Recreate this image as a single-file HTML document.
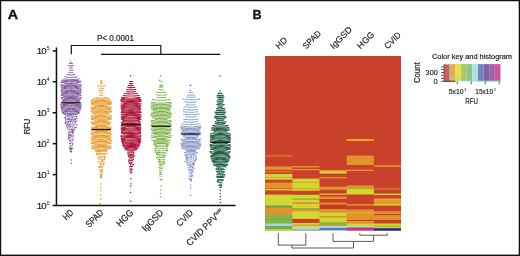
<!DOCTYPE html>
<html lang="en"><head><meta charset="utf-8"><title>Figure</title>
<style>
html,body{margin:0;padding:0;background:#fff;}
body{width:520px;height:256px;overflow:hidden;}
svg{display:block;}
text{font-family:"Liberation Sans", sans-serif;fill:#1c1c1c;stroke:#1c1c1c;stroke-width:0.18px;}
text{filter:grayscale(1);}
</style></head><body>
<svg width="520" height="256" viewBox="0 0 520 256">
<rect x="0" y="0" width="520" height="256" fill="#fff"/>

<g fill="#111">
<rect x="0" y="0" width="520" height="1.25"/>
<rect x="0" y="0" width="1.2" height="256"/>
<rect x="518.7" y="0" width="1.4" height="256"/>
<rect x="0" y="254.6" width="520" height="1.5"/>
</g>
<text x="7.7" y="18.8" font-size="13" font-weight="bold" textLength="10.3" lengthAdjust="spacingAndGlyphs" style="fill:#111;stroke:#111;stroke-width:0.35px">A</text>
<text x="252.4" y="18.8" font-size="12.6" font-weight="bold" style="fill:#111;stroke:#111;stroke-width:0.3px">B</text>
<g stroke="#111" stroke-width="1.5" fill="none" stroke-linecap="butt">
<path d="M56.45 47.60V205.5H235.6"/>
<path d="M52.7 205.50H56.45"/>
<path d="M52.7 174.58H56.45"/>
<path d="M52.7 143.66H56.45"/>
<path d="M52.7 112.74H56.45"/>
<path d="M52.7 81.82H56.45"/>
<path d="M52.7 50.90H56.45"/>
</g>
<text y="208.65" font-size="9.7"><tspan x="36.7">1</tspan><tspan x="41.15">0</tspan></text>
<text x="46.7" y="204.95" font-size="5.6" textLength="2.9" lengthAdjust="spacingAndGlyphs" style="stroke-width:0.05px">0</text>
<text y="177.73" font-size="9.7"><tspan x="36.7">1</tspan><tspan x="41.15">0</tspan></text>
<text x="46.7" y="174.03" font-size="5.6" textLength="2.9" lengthAdjust="spacingAndGlyphs" style="stroke-width:0.05px">1</text>
<text y="146.81" font-size="9.7"><tspan x="36.7">1</tspan><tspan x="41.15">0</tspan></text>
<text x="46.7" y="143.11" font-size="5.6" textLength="2.9" lengthAdjust="spacingAndGlyphs" style="stroke-width:0.05px">2</text>
<text y="115.89" font-size="9.7"><tspan x="36.7">1</tspan><tspan x="41.15">0</tspan></text>
<text x="46.7" y="112.19" font-size="5.6" textLength="2.9" lengthAdjust="spacingAndGlyphs" style="stroke-width:0.05px">3</text>
<text y="84.97" font-size="9.7"><tspan x="36.7">1</tspan><tspan x="41.15">0</tspan></text>
<text x="46.7" y="81.27" font-size="5.6" textLength="2.9" lengthAdjust="spacingAndGlyphs" style="stroke-width:0.05px">4</text>
<text y="54.05" font-size="9.7"><tspan x="36.7">1</tspan><tspan x="41.15">0</tspan></text>
<text x="46.7" y="50.35" font-size="5.6" textLength="2.9" lengthAdjust="spacingAndGlyphs" style="stroke-width:0.05px">5</text>
<text transform="translate(30.3 134.3) rotate(-90)" font-size="9.9" textLength="15.6" lengthAdjust="spacingAndGlyphs">RFU</text>
<g stroke="#111" stroke-width="1.15" fill="none">
<path d="M71.3 54.3V45.5H160.8V54.3"/>
<path d="M101 54.3H220.3"/>
</g>
<text x="96.9" y="41.4" font-size="8.6" textLength="37" lengthAdjust="spacingAndGlyphs">P&lt; 0.0001</text>
<g stroke="#7A5499" stroke-width="1.0" stroke-linecap="round" fill="none">
<path d="M69.1 63.5Q71.0 63.7 72.3 63.5" stroke-dasharray="1.45 0.75" stroke-dashoffset="0.20"/>
<path d="M68.0 65.6Q71.0 66.2 73.5 65.6" stroke-dasharray="1.60 0.74" stroke-dashoffset="0.52"/>
<path d="M69.4 68.0Q71.0 68.1 72.4 68.0" stroke-dasharray="1.83 0.80" stroke-dashoffset="1.53"/>
<path d="M69.1 70.2Q71.0 70.7 73.0 70.2" stroke-dasharray="1.51 0.96" stroke-dashoffset="1.92"/>
<path d="M68.9 72.5Q71.0 72.8 73.5 72.5" stroke-dasharray="1.09 0.86" stroke-dashoffset="0.96"/>
<path d="M66.9 74.4Q71.0 75.4 75.0 74.4" stroke-dasharray="1.77 0.79" stroke-dashoffset="1.25"/>
<path d="M64.9 76.8Q71.0 78.0 76.9 76.8" stroke-dasharray="1.71 0.99" stroke-dashoffset="1.56"/>
<path d="M63.3 78.7Q71.0 80.4 78.9 78.7" stroke-dasharray="1.07 1.04" stroke-dashoffset="1.36"/>
<path d="M62.4 80.0Q71.0 81.6 79.0 80.0" stroke-dasharray="5.12 0.35" stroke-dashoffset="0.64"/>
<path d="M61.4 81.0Q71.0 82.8 80.5 81.0" stroke-dasharray="6.55 0.34" stroke-dashoffset="3.09"/>
<path d="M60.9 82.2Q71.0 84.4 80.9 82.2" stroke-dasharray="4.95 0.39" stroke-dashoffset="4.73"/>
<path d="M64.6 83.8Q71.0 84.8 77.4 83.8" stroke-dasharray="5.56 0.37" stroke-dashoffset="0.02"/>
<path d="M61.2 84.7Q71.0 86.7 81.0 84.7" stroke-dasharray="5.30 0.44" stroke-dashoffset="3.89"/>
<path d="M60.9 85.7Q71.0 88.0 81.4 85.7" stroke-dasharray="4.87 0.40" stroke-dashoffset="0.55"/>
<path d="M61.1 87.0Q71.0 88.8 80.5 87.0" stroke-dasharray="4.69 0.33" stroke-dashoffset="0.00"/>
<path d="M61.5 88.1Q71.0 90.0 81.0 88.1" stroke-dasharray="5.65 0.35" stroke-dashoffset="1.51"/>
<path d="M61.4 89.5Q71.0 91.4 81.2 89.5" stroke-dasharray="5.13 0.42" stroke-dashoffset="0.48"/>
<path d="M60.9 90.7Q71.0 92.6 80.7 90.7" stroke-dasharray="3.58 0.51" stroke-dashoffset="2.16"/>
<path d="M61.3 91.9Q71.0 93.7 81.3 91.9" stroke-dasharray="6.52 0.46" stroke-dashoffset="1.82"/>
<path d="M61.4 92.9Q71.0 95.0 81.0 92.9" stroke-dasharray="4.65 0.36" stroke-dashoffset="4.07"/>
<path d="M61.2 94.2Q71.0 96.3 80.4 94.2" stroke-dasharray="5.31 0.39" stroke-dashoffset="0.17"/>
<path d="M61.4 95.5Q71.0 97.4 81.1 95.5" stroke-dasharray="5.07 0.51" stroke-dashoffset="5.51"/>
<path d="M63.5 96.9Q71.0 98.1 78.1 96.9" stroke-dasharray="5.68 0.50" stroke-dashoffset="5.20"/>
<path d="M61.0 97.5Q71.0 99.7 81.2 97.5" stroke-dasharray="6.68 0.48" stroke-dashoffset="5.37"/>
<path d="M61.4 98.8Q71.0 101.0 81.0 98.8" stroke-dasharray="6.90 0.40" stroke-dashoffset="2.93"/>
<path d="M62.5 100.3Q71.0 101.8 79.9 100.3" stroke-dasharray="6.32 0.35" stroke-dashoffset="5.51"/>
<path d="M62.2 101.4Q71.0 103.1 79.2 101.4" stroke-dasharray="6.90 0.45" stroke-dashoffset="3.87"/>
<path d="M62.9 102.6Q71.0 104.3 78.8 102.6" stroke-dasharray="4.53 0.37" stroke-dashoffset="2.87"/>
<path d="M61.0 104.0Q71.0 105.8 80.9 104.0" stroke-dasharray="5.10 0.44" stroke-dashoffset="5.01"/>
<path d="M60.8 104.9Q71.0 107.0 81.3 104.9" stroke-dasharray="3.57 0.41" stroke-dashoffset="0.73"/>
<path d="M61.0 106.2Q71.0 108.1 81.3 106.2" stroke-dasharray="5.45 0.39" stroke-dashoffset="3.02"/>
<path d="M61.0 107.5Q71.0 109.3 80.7 107.5" stroke-dasharray="4.47 0.47" stroke-dashoffset="2.51"/>
<path d="M61.4 108.5Q71.0 110.6 80.7 108.5" stroke-dasharray="5.27 0.42" stroke-dashoffset="3.94"/>
<path d="M61.9 110.0Q71.0 111.8 80.4 110.0" stroke-dasharray="6.57 0.51" stroke-dashoffset="1.84"/>
<path d="M61.5 110.8Q71.0 112.9 80.0 110.8" stroke-dasharray="5.05 0.33" stroke-dashoffset="1.30"/>
<path d="M62.0 112.3Q71.0 114.2 79.5 112.3" stroke-dasharray="6.01 0.45" stroke-dashoffset="0.92"/>
<path d="M63.0 113.4Q71.0 115.2 79.0 113.4" stroke-dasharray="6.96 0.49" stroke-dashoffset="1.20"/>
<path d="M64.1 114.6Q71.0 115.7 78.1 114.6" stroke-dasharray="1.25 1.55" stroke-dashoffset="2.72"/>
<path d="M64.8 116.4Q71.0 117.6 76.8 116.4" stroke-dasharray="0.69 1.08" stroke-dashoffset="1.21"/>
<path d="M64.9 118.5Q71.0 119.6 76.6 118.5" stroke-dasharray="1.21 1.21" stroke-dashoffset="0.31"/>
<path d="M65.6 119.6Q71.0 120.4 76.0 119.6" stroke-dasharray="0.85 1.05" stroke-dashoffset="0.48"/>
<path d="M65.5 121.1Q71.0 122.0 77.0 121.1" stroke-dasharray="0.95 1.49" stroke-dashoffset="2.39"/>
<path d="M65.3 122.5Q71.0 123.6 76.5 122.5" stroke-dasharray="0.68 1.59" stroke-dashoffset="1.98"/>
<path d="M66.7 124.3Q71.0 125.0 75.2 124.3" stroke-dasharray="0.83 1.27" stroke-dashoffset="0.00"/>
<path d="M66.4 126.0Q71.0 126.6 75.0 126.0" stroke-dasharray="0.64 1.24" stroke-dashoffset="0.44"/>
<path d="M67.1 127.6Q71.0 128.4 75.4 127.6" stroke-dasharray="1.09 1.46" stroke-dashoffset="0.11"/>
<path d="M67.1 129.1Q71.0 129.9 75.0 129.1" stroke-dasharray="1.06 1.49" stroke-dashoffset="0.59"/>
<path d="M68.0 131.2Q71.0 131.5 74.0 131.2" stroke-dasharray="0.63 1.56" stroke-dashoffset="1.64"/>
<path d="M67.6 132.3Q71.0 132.7 74.1 132.3" stroke-dasharray="1.10 1.67" stroke-dashoffset="1.37"/>
<path d="M68.2 133.7Q71.0 134.4 74.0 133.7" stroke-dasharray="0.82 1.41" stroke-dashoffset="0.03"/>
<path d="M68.4 135.6Q71.0 136.2 73.4 135.6" stroke-dasharray="1.19 1.17" stroke-dashoffset="2.31"/>
<path d="M68.3 136.8Q71.0 137.5 73.4 136.8" stroke-dasharray="0.72 1.38" stroke-dashoffset="2.00"/>
<path d="M68.5 139.0Q71.0 139.6 73.2 139.0" stroke-dasharray="0.94 1.33" stroke-dashoffset="0.69"/>
<path d="M69.4 140.3Q71.0 140.9 72.9 140.3" stroke-dasharray="1.21 1.50" stroke-dashoffset="2.45"/>
<path d="M69.3 141.7Q71.0 142.4 72.6 141.7" stroke-dasharray="0.66 1.11" stroke-dashoffset="1.47"/>
<path d="M69.2 143.4Q71.0 143.7 72.4 143.4" stroke-dasharray="1.03 1.63" stroke-dashoffset="2.50"/>
<path d="M69.9 145.1Q71.0 145.5 72.4 145.1" stroke-dasharray="0.66 1.64" stroke-dashoffset="0.29"/>
<path d="M69.7 146.8Q71.0 147.2 72.0 146.8" stroke-dasharray="0.98 1.30" stroke-dashoffset="0.38"/>
<path d="M70.8 62.1h0M69.9 115.0h0M67.9 115.7h0M71.2 115.0h0M76.5 116.8h0M65.0 117.6h0M72.2 117.4h0M76.8 118.6h0M68.4 118.7h0M74.9 120.0h0M71.0 119.9h0M70.1 121.8h0M75.7 121.7h0M65.4 123.6h0M67.8 123.0h0M76.7 125.0h0M67.9 125.5h0M69.9 125.9h0M76.0 127.6h0M73.9 130.0h0M71.8 130.1h0M72.6 131.1h0M72.8 132.4h0M69.2 134.6h0M70.8 135.4h0M69.2 137.5h0M68.3 138.4h0M72.6 144.0h0M69.8 148.6h0M71.0 148.2h0M72.3 148.6h0M70.3 149.7h0M71.3 149.8h0M70.3 151.4h0M71.6 151.8h0M71.4 160.0h0M71.2 163.2h0" stroke-width="1.5"/>
</g>
<path d="M61.2 102.8H80.8" stroke="#111" stroke-width="1.25" fill="none"/>
<g stroke="#E89824" stroke-width="1.0" stroke-linecap="round" fill="none">
<path d="M100.4 83.4Q101.2 83.9 102.2 83.4" stroke-dasharray="1.60 0.76" stroke-dashoffset="1.93"/>
<path d="M97.3 85.6Q101.2 86.5 105.2 85.6" stroke-dasharray="1.12 0.80" stroke-dashoffset="1.78"/>
<path d="M98.5 88.2Q101.2 88.5 104.0 88.2" stroke-dasharray="1.88 1.02" stroke-dashoffset="2.09"/>
<path d="M98.8 90.4Q101.2 91.0 103.2 90.4" stroke-dasharray="1.76 0.66" stroke-dashoffset="1.73"/>
<path d="M99.8 93.0Q101.2 93.1 102.6 93.0" stroke-dasharray="1.77 0.80" stroke-dashoffset="0.57"/>
<path d="M99.2 95.2Q101.2 95.8 103.0 95.2" stroke-dasharray="2.06 0.74" stroke-dashoffset="1.47"/>
<path d="M95.3 97.5Q101.2 98.5 106.6 97.5" stroke-dasharray="1.34 0.99" stroke-dashoffset="1.51"/>
<path d="M93.6 98.5Q101.2 99.9 108.8 98.5" stroke-dasharray="5.94 0.46" stroke-dashoffset="2.32"/>
<path d="M92.0 99.7Q101.2 101.4 109.9 99.7" stroke-dasharray="5.23 0.36" stroke-dashoffset="4.28"/>
<path d="M91.1 100.9Q101.2 102.8 110.8 100.9" stroke-dasharray="5.68 0.44" stroke-dashoffset="5.49"/>
<path d="M91.2 102.0Q101.2 103.9 111.7 102.0" stroke-dasharray="3.69 0.32" stroke-dashoffset="2.39"/>
<path d="M91.2 103.2Q101.2 105.1 111.5 103.2" stroke-dasharray="4.60 0.34" stroke-dashoffset="0.39"/>
<path d="M91.4 104.4Q101.2 106.5 111.0 104.4" stroke-dasharray="4.59 0.47" stroke-dashoffset="4.24"/>
<path d="M93.6 106.0Q101.2 107.2 108.7 106.0" stroke-dasharray="6.60 0.43" stroke-dashoffset="5.33"/>
<path d="M90.8 107.0Q101.2 109.0 111.1 107.0" stroke-dasharray="5.97 0.36" stroke-dashoffset="3.43"/>
<path d="M91.4 108.1Q101.2 110.3 111.2 108.1" stroke-dasharray="4.37 0.45" stroke-dashoffset="1.95"/>
<path d="M91.0 109.2Q101.2 111.4 111.0 109.2" stroke-dasharray="3.72 0.44" stroke-dashoffset="1.51"/>
<path d="M91.0 110.8Q101.2 112.7 111.6 110.8" stroke-dasharray="6.73 0.38" stroke-dashoffset="5.13"/>
<path d="M91.2 111.7Q101.2 114.0 111.6 111.7" stroke-dasharray="3.88 0.46" stroke-dashoffset="2.02"/>
<path d="M91.8 113.1Q101.2 115.1 110.6 113.1" stroke-dasharray="3.53 0.51" stroke-dashoffset="1.22"/>
<path d="M94.9 114.8Q101.2 116.1 107.8 114.8" stroke-dasharray="5.59 0.42" stroke-dashoffset="2.35"/>
<path d="M91.3 115.6Q101.2 117.7 111.2 115.6" stroke-dasharray="4.06 0.41" stroke-dashoffset="0.47"/>
<path d="M91.4 117.0Q101.2 118.9 111.6 117.0" stroke-dasharray="6.90 0.35" stroke-dashoffset="0.96"/>
<path d="M91.1 118.2Q101.2 120.2 111.6 118.2" stroke-dasharray="6.16 0.48" stroke-dashoffset="1.95"/>
<path d="M91.3 119.4Q101.2 121.3 111.0 119.4" stroke-dasharray="4.15 0.37" stroke-dashoffset="1.27"/>
<path d="M94.7 121.1Q101.2 122.2 107.7 121.1" stroke-dasharray="5.77 0.34" stroke-dashoffset="2.84"/>
<path d="M91.5 121.8Q101.2 124.0 110.9 121.8" stroke-dasharray="4.81 0.50" stroke-dashoffset="1.24"/>
<path d="M90.9 123.0Q101.2 125.2 111.0 123.0" stroke-dasharray="5.29 0.36" stroke-dashoffset="3.41"/>
<path d="M92.7 124.7Q101.2 126.4 109.5 124.7" stroke-dasharray="3.63 0.39" stroke-dashoffset="0.18"/>
<path d="M95.1 126.1Q101.2 127.5 107.7 126.1" stroke-dasharray="4.93 0.39" stroke-dashoffset="3.31"/>
<path d="M91.4 127.0Q101.2 128.9 110.9 127.0" stroke-dasharray="6.29 0.45" stroke-dashoffset="1.04"/>
<path d="M91.4 128.1Q101.2 130.1 111.6 128.1" stroke-dasharray="5.84 0.40" stroke-dashoffset="0.32"/>
<path d="M91.9 129.7Q101.2 131.4 110.9 129.7" stroke-dasharray="5.76 0.40" stroke-dashoffset="2.49"/>
<path d="M93.7 131.0Q101.2 132.2 108.8 131.0" stroke-dasharray="4.78 0.47" stroke-dashoffset="0.68"/>
<path d="M91.5 131.8Q101.2 134.0 111.0 131.8" stroke-dasharray="6.75 0.47" stroke-dashoffset="1.24"/>
<path d="M91.3 133.2Q101.2 135.0 110.9 133.2" stroke-dasharray="6.14 0.48" stroke-dashoffset="5.32"/>
<path d="M90.9 134.6Q101.2 136.5 111.3 134.6" stroke-dasharray="5.63 0.45" stroke-dashoffset="0.52"/>
<path d="M92.3 135.9Q101.2 137.7 110.3 135.9" stroke-dasharray="5.65 0.36" stroke-dashoffset="2.84"/>
<path d="M91.4 136.7Q101.2 138.9 110.8 136.7" stroke-dasharray="4.02 0.51" stroke-dashoffset="3.70"/>
<path d="M91.1 138.1Q101.2 140.4 111.5 138.1" stroke-dasharray="4.63 0.40" stroke-dashoffset="2.29"/>
<path d="M91.9 139.5Q101.2 141.2 110.3 139.5" stroke-dasharray="4.79 0.42" stroke-dashoffset="0.93"/>
<path d="M91.0 140.6Q101.2 142.7 111.6 140.6" stroke-dasharray="6.37 0.49" stroke-dashoffset="5.56"/>
<path d="M91.6 142.0Q101.2 143.9 111.1 142.0" stroke-dasharray="5.27 0.45" stroke-dashoffset="0.23"/>
<path d="M90.7 143.3Q101.2 145.3 111.2 143.3" stroke-dasharray="6.13 0.50" stroke-dashoffset="4.33"/>
<path d="M95.1 145.0Q101.2 146.1 106.8 145.0" stroke-dasharray="3.96 0.50" stroke-dashoffset="1.28"/>
<path d="M92.1 145.6Q101.2 147.6 110.7 145.6" stroke-dasharray="5.64 0.37" stroke-dashoffset="1.95"/>
<path d="M91.2 146.8Q101.2 148.9 111.7 146.8" stroke-dasharray="5.18 0.44" stroke-dashoffset="3.46"/>
<path d="M91.6 148.3Q101.2 150.1 111.0 148.3" stroke-dasharray="4.47 0.39" stroke-dashoffset="1.83"/>
<path d="M95.5 150.1Q101.2 151.0 107.4 150.1" stroke-dasharray="5.09 0.42" stroke-dashoffset="3.79"/>
<path d="M94.6 150.9Q101.2 152.2 107.6 150.9" stroke-dasharray="1.37 1.04" stroke-dashoffset="1.25"/>
<path d="M95.3 153.0Q101.2 154.3 107.4 153.0" stroke-dasharray="0.73 1.15" stroke-dashoffset="1.15"/>
<path d="M96.9 154.6Q101.2 155.2 105.5 154.6" stroke-dasharray="0.71 1.32" stroke-dashoffset="1.44"/>
<path d="M97.8 156.5Q101.2 157.2 105.0 156.5" stroke-dasharray="1.12 1.20" stroke-dashoffset="1.39"/>
<path d="M97.4 157.7Q101.2 158.0 104.5 157.7" stroke-dasharray="1.13 1.24" stroke-dashoffset="0.47"/>
<path d="M97.9 159.5Q101.2 160.1 104.6 159.5" stroke-dasharray="1.21 1.14" stroke-dashoffset="1.27"/>
<path d="M97.9 161.7Q101.2 162.0 104.2 161.7" stroke-dasharray="1.32 1.39" stroke-dashoffset="2.56"/>
<path d="M99.0 163.2Q101.2 163.7 103.9 163.2" stroke-dasharray="0.76 1.16" stroke-dashoffset="0.33"/>
<path d="M99.1 164.4Q101.2 165.0 103.1 164.4" stroke-dasharray="1.39 1.34" stroke-dashoffset="1.46"/>
<path d="M99.2 166.7Q101.2 166.8 102.8 166.7" stroke-dasharray="1.10 0.97" stroke-dashoffset="0.07"/>
<path d="M99.3 167.5Q101.2 168.1 102.6 167.5" stroke-dasharray="0.73 1.35" stroke-dashoffset="1.59"/>
<path d="M99.7 169.6Q101.2 170.1 103.0 169.6" stroke-dasharray="0.87 0.99" stroke-dashoffset="0.06"/>
<path d="M100.0 170.8Q101.2 171.2 102.3 170.8" stroke-dasharray="0.94 1.02" stroke-dashoffset="0.69"/>
<path d="M99.7 172.5Q101.2 173.0 102.7 172.5" stroke-dasharray="1.06 0.93" stroke-dashoffset="0.94"/>
<path d="M101.2 80.5h0M100.6 81.8h0M101.6 82.4h0M98.5 151.2h0M96.9 151.8h0M98.4 153.5h0M100.1 153.2h0M96.7 154.8h0M105.2 154.5h0M104.7 157.0h0M105.2 157.7h0M102.3 160.4h0M102.3 161.0h0M104.1 163.5h0M103.4 165.2h0M100.6 166.4h0M99.1 167.4h0M101.7 171.0h0M102.1 172.3h0M100.7 174.6h0M101.9 174.5h0M100.6 176.1h0M101.6 176.2h0M100.6 177.4h0M101.8 177.8h0M101.0 184.0h0M100.6 187.5h0M100.9 191.0h0M100.5 195.0h0M100.8 199.0h0M100.2 203.5h0M99.6 204.2h0" stroke-width="1.5"/>
</g>
<path d="M91.4 129.5H111.0" stroke="#111" stroke-width="1.25" fill="none"/>
<g stroke="#B0183A" stroke-width="1.1" stroke-linecap="round" fill="none">
<path d="M129.7 81.5Q131.0 81.7 132.8 81.5" stroke-dasharray="1.66 0.62" stroke-dashoffset="2.13"/>
<path d="M129.3 83.4Q131.0 83.9 132.8 83.4" stroke-dasharray="1.82 0.70" stroke-dashoffset="1.00"/>
<path d="M128.2 85.4Q131.0 85.9 133.9 85.4" stroke-dasharray="1.57 0.90" stroke-dashoffset="1.56"/>
<path d="M127.6 87.4Q131.0 87.9 134.8 87.4" stroke-dasharray="2.23 0.82" stroke-dashoffset="0.52"/>
<path d="M126.7 89.5Q131.0 90.2 135.7 89.5" stroke-dasharray="1.66 0.63" stroke-dashoffset="0.69"/>
<path d="M126.5 91.5Q131.0 92.5 135.6 91.5" stroke-dasharray="1.81 0.64" stroke-dashoffset="2.35"/>
<path d="M124.3 93.3Q131.0 94.6 137.3 93.3" stroke-dasharray="1.54 0.67" stroke-dashoffset="0.66"/>
<path d="M122.8 95.4Q131.0 96.7 139.1 95.4" stroke-dasharray="1.39 0.70" stroke-dashoffset="1.65"/>
<path d="M121.3 97.2Q131.0 99.2 140.2 97.2" stroke-dasharray="13.47 0.30" stroke-dashoffset="10.20"/>
<path d="M122.2 98.4Q131.0 100.2 139.4 98.4" stroke-dasharray="14.47 0.37" stroke-dashoffset="11.49"/>
<path d="M121.0 99.4Q131.0 101.5 141.0 99.4" stroke-dasharray="11.03 0.33" stroke-dashoffset="1.11"/>
<path d="M120.9 100.5Q131.0 102.6 140.8 100.5" stroke-dasharray="11.96 0.31" stroke-dashoffset="7.62"/>
<path d="M121.2 101.4Q131.0 103.6 141.0 101.4" stroke-dasharray="14.94 0.30" stroke-dashoffset="7.46"/>
<path d="M123.3 103.1Q131.0 104.5 139.2 103.1" stroke-dasharray="12.76 0.26" stroke-dashoffset="7.48"/>
<path d="M121.3 103.8Q131.0 105.9 141.1 103.8" stroke-dasharray="12.78 0.30" stroke-dashoffset="12.40"/>
<path d="M120.9 105.0Q131.0 107.0 140.7 105.0" stroke-dasharray="16.67 0.29" stroke-dashoffset="0.96"/>
<path d="M121.2 106.1Q131.0 107.9 140.7 106.1" stroke-dasharray="14.27 0.29" stroke-dashoffset="3.86"/>
<path d="M120.9 107.0Q131.0 109.3 140.7 107.0" stroke-dasharray="15.13 0.30" stroke-dashoffset="3.27"/>
<path d="M121.1 108.2Q131.0 110.4 140.9 108.2" stroke-dasharray="13.12 0.27" stroke-dashoffset="12.91"/>
<path d="M121.1 109.3Q131.0 111.5 140.8 109.3" stroke-dasharray="10.87 0.32" stroke-dashoffset="1.40"/>
<path d="M122.2 110.6Q131.0 112.2 139.5 110.6" stroke-dasharray="11.98 0.27" stroke-dashoffset="0.03"/>
<path d="M121.4 111.6Q131.0 113.4 140.6 111.6" stroke-dasharray="12.00 0.34" stroke-dashoffset="8.13"/>
<path d="M121.2 112.4Q131.0 114.6 141.2 112.4" stroke-dasharray="16.01 0.36" stroke-dashoffset="2.30"/>
<path d="M122.4 114.1Q131.0 115.6 139.8 114.1" stroke-dasharray="10.50 0.26" stroke-dashoffset="1.54"/>
<path d="M121.4 114.7Q131.0 116.7 141.1 114.7" stroke-dasharray="15.05 0.27" stroke-dashoffset="13.65"/>
<path d="M121.3 116.0Q131.0 118.1 141.1 116.0" stroke-dasharray="15.45 0.27" stroke-dashoffset="10.89"/>
<path d="M121.2 117.1Q131.0 119.1 140.9 117.1" stroke-dasharray="10.62 0.28" stroke-dashoffset="1.52"/>
<path d="M121.6 118.1Q131.0 120.0 140.4 118.1" stroke-dasharray="12.58 0.32" stroke-dashoffset="11.14"/>
<path d="M121.2 119.2Q131.0 121.2 141.0 119.2" stroke-dasharray="15.46 0.30" stroke-dashoffset="6.60"/>
<path d="M123.1 120.4Q131.0 122.0 139.0 120.4" stroke-dasharray="14.13 0.38" stroke-dashoffset="4.80"/>
<path d="M122.4 121.3Q131.0 123.2 139.9 121.3" stroke-dasharray="13.65 0.29" stroke-dashoffset="12.01"/>
<path d="M121.2 122.6Q131.0 124.6 140.5 122.6" stroke-dasharray="12.06 0.30" stroke-dashoffset="6.85"/>
<path d="M122.4 123.8Q131.0 125.4 139.4 123.8" stroke-dasharray="12.65 0.39" stroke-dashoffset="8.54"/>
<path d="M121.5 124.7Q131.0 126.6 140.6 124.7" stroke-dasharray="13.73 0.36" stroke-dashoffset="0.56"/>
<path d="M121.0 125.7Q131.0 127.7 140.8 125.7" stroke-dasharray="8.45 0.27" stroke-dashoffset="8.04"/>
<path d="M121.3 127.0Q131.0 129.1 140.8 127.0" stroke-dasharray="13.58 0.33" stroke-dashoffset="9.69"/>
<path d="M121.2 128.1Q131.0 130.0 140.7 128.1" stroke-dasharray="14.81 0.26" stroke-dashoffset="2.73"/>
<path d="M121.1 129.1Q131.0 131.3 140.7 129.1" stroke-dasharray="15.31 0.36" stroke-dashoffset="8.81"/>
<path d="M121.4 130.2Q131.0 132.1 140.5 130.2" stroke-dasharray="13.79 0.38" stroke-dashoffset="0.77"/>
<path d="M121.7 131.6Q131.0 133.3 140.4 131.6" stroke-dasharray="16.12 0.31" stroke-dashoffset="0.23"/>
<path d="M121.3 132.5Q131.0 134.7 140.7 132.5" stroke-dasharray="11.86 0.26" stroke-dashoffset="7.81"/>
<path d="M121.7 133.5Q131.0 135.2 140.5 133.5" stroke-dasharray="9.42 0.38" stroke-dashoffset="0.86"/>
<path d="M123.5 134.8Q131.0 136.3 138.8 134.8" stroke-dasharray="9.97 0.25" stroke-dashoffset="7.91"/>
<path d="M121.2 135.5Q131.0 137.7 140.9 135.5" stroke-dasharray="14.36 0.31" stroke-dashoffset="13.67"/>
<path d="M120.8 136.6Q131.0 138.7 140.6 136.6" stroke-dasharray="13.87 0.36" stroke-dashoffset="1.13"/>
<path d="M121.2 138.1Q131.0 139.9 140.7 138.1" stroke-dasharray="8.90 0.30" stroke-dashoffset="5.29"/>
<path d="M121.2 139.2Q131.0 141.0 140.6 139.2" stroke-dasharray="13.82 0.33" stroke-dashoffset="5.91"/>
<path d="M121.5 140.1Q131.0 142.3 140.6 140.1" stroke-dasharray="10.86 0.25" stroke-dashoffset="10.82"/>
<path d="M121.9 141.4Q131.0 143.1 140.6 141.4" stroke-dasharray="15.38 0.33" stroke-dashoffset="4.85"/>
<path d="M121.9 142.5Q131.0 144.3 140.2 142.5" stroke-dasharray="15.93 0.36" stroke-dashoffset="4.61"/>
<path d="M122.6 143.6Q131.0 145.3 139.8 143.6" stroke-dasharray="15.85 0.25" stroke-dashoffset="13.42"/>
<path d="M122.9 144.9Q131.0 146.4 139.5 144.9" stroke-dasharray="14.15 0.38" stroke-dashoffset="5.04"/>
<path d="M122.8 145.6Q131.0 147.4 139.5 145.6" stroke-dasharray="16.23 0.28" stroke-dashoffset="10.01"/>
<path d="M123.5 147.0Q131.0 148.3 138.8 147.0" stroke-dasharray="15.05 0.31" stroke-dashoffset="1.35"/>
<path d="M124.7 148.3Q131.0 149.6 137.7 148.3" stroke-dasharray="12.78 0.31" stroke-dashoffset="7.72"/>
<path d="M125.3 149.6Q131.0 150.4 136.5 149.6" stroke-dasharray="13.14 0.30" stroke-dashoffset="6.95"/>
<path d="M127.6 150.8Q131.0 151.4 134.5 150.8" stroke-dasharray="1.17 0.81" stroke-dashoffset="0.07"/>
<path d="M127.9 152.6Q131.0 153.1 134.0 152.6" stroke-dasharray="0.97 0.82" stroke-dashoffset="0.36"/>
<path d="M128.8 154.1Q131.0 154.5 133.2 154.1" stroke-dasharray="1.08 0.86" stroke-dashoffset="1.86"/>
<path d="M128.2 155.0Q131.0 155.7 133.7 155.0" stroke-dasharray="0.94 0.82" stroke-dashoffset="0.45"/>
<path d="M128.2 156.4Q131.0 157.1 134.1 156.4" stroke-dasharray="0.88 1.18" stroke-dashoffset="1.93"/>
<path d="M128.7 157.6Q131.0 158.2 133.1 157.6" stroke-dasharray="0.95 0.87" stroke-dashoffset="1.24"/>
<path d="M128.7 159.9Q131.0 160.1 133.0 159.9" stroke-dasharray="1.11 0.85" stroke-dashoffset="1.82"/>
<path d="M129.1 160.5Q131.0 161.1 133.0 160.5" stroke-dasharray="1.20 0.87" stroke-dashoffset="1.80"/>
<path d="M129.2 162.2Q131.0 162.5 132.6 162.2" stroke-dasharray="0.86 1.29" stroke-dashoffset="0.12"/>
<path d="M129.1 163.6Q131.0 163.9 132.6 163.6" stroke-dasharray="0.85 0.94" stroke-dashoffset="1.60"/>
<path d="M129.4 164.8Q131.0 165.4 132.9 164.8" stroke-dasharray="0.77 1.22" stroke-dashoffset="1.05"/>
<path d="M128.9 166.4Q131.0 166.7 132.7 166.4" stroke-dasharray="0.83 0.84" stroke-dashoffset="1.02"/>
<path d="M129.9 168.1Q131.0 168.5 132.5 168.1" stroke-dasharray="0.82 1.17" stroke-dashoffset="0.81"/>
<path d="M129.7 169.6Q131.0 169.8 132.7 169.6" stroke-dasharray="1.47 1.04" stroke-dashoffset="2.19"/>
<path d="M129.5 170.9Q131.0 171.1 132.3 170.9" stroke-dasharray="1.17 1.02" stroke-dashoffset="1.13"/>
<path d="M131.9 150.8h0M133.5 153.0h0M127.9 154.0h0M134.1 155.9h0M134.1 156.2h0M130.9 157.8h0M133.2 159.2h0M128.6 161.3h0M130.1 162.9h0M133.4 164.4h0M131.9 166.4h0M130.6 172.7h0M131.7 172.4h0M130.6 75.8h0M130.8 178.8h0M131.0 183.8h0M130.7 186.0h0M130.6 192.5h0M130.8 201.2h0" stroke-width="1.5"/>
</g>
<path d="M121.2 124.5H140.8" stroke="#111" stroke-width="1.25" fill="none"/>
<g stroke="#6EAB34" stroke-width="0.95" stroke-linecap="round" fill="none">
<path d="M159.1 87.1Q161.2 87.3 162.9 87.1" stroke-dasharray="1.47 0.97" stroke-dashoffset="2.33"/>
<path d="M158.2 89.5Q161.2 90.3 164.2 89.5" stroke-dasharray="1.39 0.92" stroke-dashoffset="0.81"/>
<path d="M156.3 92.2Q161.2 92.9 166.1 92.2" stroke-dasharray="1.43 0.77" stroke-dashoffset="0.90"/>
<path d="M155.8 94.8Q161.2 95.6 166.9 94.8" stroke-dasharray="1.30 1.09" stroke-dashoffset="2.25"/>
<path d="M157.0 97.3Q161.2 98.1 166.0 97.3" stroke-dasharray="1.18 0.88" stroke-dashoffset="0.83"/>
<path d="M152.3 99.4Q161.2 101.3 170.1 99.4" stroke-dasharray="2.19 1.14" stroke-dashoffset="0.83"/>
<path d="M151.1 102.2Q161.2 104.1 170.8 102.2" stroke-dasharray="3.21 0.53" stroke-dashoffset="0.08"/>
<path d="M151.2 103.6Q161.2 105.8 171.4 103.6" stroke-dasharray="4.05 0.62" stroke-dashoffset="4.13"/>
<path d="M151.2 105.1Q161.2 107.0 171.0 105.1" stroke-dasharray="3.45 0.63" stroke-dashoffset="2.54"/>
<path d="M151.2 106.5Q161.2 108.5 170.9 106.5" stroke-dasharray="2.92 0.56" stroke-dashoffset="0.42"/>
<path d="M151.6 107.8Q161.2 109.7 170.8 107.8" stroke-dasharray="2.57 0.43" stroke-dashoffset="0.39"/>
<path d="M151.2 109.1Q161.2 111.0 170.7 109.1" stroke-dasharray="3.46 0.61" stroke-dashoffset="2.48"/>
<path d="M153.3 110.7Q161.2 112.4 169.2 110.7" stroke-dasharray="3.61 0.52" stroke-dashoffset="1.28"/>
<path d="M151.6 111.9Q161.2 113.9 170.9 111.9" stroke-dasharray="2.27 0.49" stroke-dashoffset="2.37"/>
<path d="M151.6 113.3Q161.2 115.3 171.4 113.3" stroke-dasharray="2.90 0.59" stroke-dashoffset="0.55"/>
<path d="M151.0 114.6Q161.2 116.7 171.2 114.6" stroke-dasharray="3.23 0.58" stroke-dashoffset="0.42"/>
<path d="M150.9 116.0Q161.2 118.2 171.3 116.0" stroke-dasharray="3.03 0.57" stroke-dashoffset="2.22"/>
<path d="M152.3 117.7Q161.2 119.6 170.4 117.7" stroke-dasharray="3.30 0.60" stroke-dashoffset="2.76"/>
<path d="M155.5 119.6Q161.2 120.4 167.1 119.6" stroke-dasharray="3.36 0.64" stroke-dashoffset="2.29"/>
<path d="M151.1 120.3Q161.2 122.5 171.2 120.3" stroke-dasharray="3.25 0.51" stroke-dashoffset="2.72"/>
<path d="M151.2 121.7Q161.2 123.7 170.9 121.7" stroke-dasharray="4.00 0.61" stroke-dashoffset="2.31"/>
<path d="M151.5 123.1Q161.2 125.0 171.0 123.1" stroke-dasharray="3.54 0.42" stroke-dashoffset="3.65"/>
<path d="M150.9 124.6Q161.2 126.8 171.2 124.6" stroke-dasharray="3.20 0.63" stroke-dashoffset="0.04"/>
<path d="M151.4 126.1Q161.2 128.1 171.3 126.1" stroke-dasharray="3.45 0.65" stroke-dashoffset="2.12"/>
<path d="M152.8 127.6Q161.2 129.2 169.4 127.6" stroke-dasharray="4.36 0.57" stroke-dashoffset="2.59"/>
<path d="M151.4 128.8Q161.2 130.8 171.1 128.8" stroke-dasharray="4.21 0.64" stroke-dashoffset="2.36"/>
<path d="M151.2 130.0Q161.2 132.3 171.3 130.0" stroke-dasharray="4.07 0.44" stroke-dashoffset="1.43"/>
<path d="M152.2 131.9Q161.2 133.5 170.4 131.9" stroke-dasharray="4.08 0.65" stroke-dashoffset="4.20"/>
<path d="M151.4 133.0Q161.2 134.9 171.0 133.0" stroke-dasharray="2.66 0.45" stroke-dashoffset="1.96"/>
<path d="M154.1 134.5Q161.2 135.9 168.2 134.5" stroke-dasharray="4.00 0.48" stroke-dashoffset="3.10"/>
<path d="M151.4 135.7Q161.2 137.9 171.2 135.7" stroke-dasharray="2.68 0.52" stroke-dashoffset="1.77"/>
<path d="M151.2 137.3Q161.2 139.3 171.3 137.3" stroke-dasharray="3.16 0.43" stroke-dashoffset="0.56"/>
<path d="M156.3 139.2Q161.2 139.9 166.5 139.2" stroke-dasharray="3.61 0.60" stroke-dashoffset="0.26"/>
<path d="M151.7 140.1Q161.2 141.9 170.5 140.1" stroke-dasharray="2.62 0.47" stroke-dashoffset="0.31"/>
<path d="M154.0 141.7Q161.2 143.0 167.9 141.7" stroke-dasharray="4.23 0.55" stroke-dashoffset="4.59"/>
<path d="M152.8 142.8Q161.2 144.4 170.1 142.8" stroke-dasharray="4.15 0.48" stroke-dashoffset="4.16"/>
<path d="M153.3 144.5Q161.2 146.0 168.8 144.5" stroke-dasharray="0.82 1.18" stroke-dashoffset="0.37"/>
<path d="M154.4 146.0Q161.2 147.3 167.9 146.0" stroke-dasharray="0.90 1.10" stroke-dashoffset="0.07"/>
<path d="M155.3 148.0Q161.2 148.9 167.5 148.0" stroke-dasharray="1.21 1.19" stroke-dashoffset="2.29"/>
<path d="M154.3 150.2Q161.2 151.3 167.7 150.2" stroke-dasharray="1.13 1.09" stroke-dashoffset="1.93"/>
<path d="M155.7 152.2Q161.2 153.1 166.5 152.2" stroke-dasharray="1.30 1.15" stroke-dashoffset="1.62"/>
<path d="M156.2 153.7Q161.2 154.5 165.6 153.7" stroke-dasharray="1.34 1.42" stroke-dashoffset="2.44"/>
<path d="M157.4 155.7Q161.2 156.4 164.8 155.7" stroke-dasharray="1.14 1.07" stroke-dashoffset="0.25"/>
<path d="M157.4 157.5Q161.2 157.9 164.7 157.5" stroke-dasharray="1.15 1.07" stroke-dashoffset="1.86"/>
<path d="M157.9 159.6Q161.2 160.2 163.9 159.6" stroke-dasharray="0.73 1.11" stroke-dashoffset="0.20"/>
<path d="M157.8 161.6Q161.2 162.0 164.5 161.6" stroke-dasharray="1.36 1.21" stroke-dashoffset="2.40"/>
<path d="M158.4 162.9Q161.2 163.4 164.2 162.9" stroke-dasharray="1.23 0.99" stroke-dashoffset="1.56"/>
<path d="M158.5 164.6Q161.2 165.2 163.6 164.6" stroke-dasharray="0.92 1.04" stroke-dashoffset="1.39"/>
<path d="M159.2 166.8Q161.2 167.2 163.0 166.8" stroke-dasharray="0.93 1.45" stroke-dashoffset="1.31"/>
<path d="M159.5 168.4Q161.2 168.8 163.3 168.4" stroke-dasharray="0.95 1.08" stroke-dashoffset="0.12"/>
<path d="M159.5 170.3Q161.2 170.7 162.7 170.3" stroke-dasharray="0.82 1.00" stroke-dashoffset="0.02"/>
<path d="M159.5 172.2Q161.2 172.8 162.4 172.2" stroke-dasharray="0.71 1.51" stroke-dashoffset="1.43"/>
<path d="M159.7 174.3Q161.2 174.5 162.2 174.3" stroke-dasharray="1.15 1.47" stroke-dashoffset="2.42"/>
<path d="M159.5 176.0Q161.2 176.5 162.5 176.0" stroke-dasharray="0.96 1.29" stroke-dashoffset="0.83"/>
<path d="M160.2 85.3h0M161.4 85.9h0M162.3 85.6h0M155.9 144.9h0M168.3 145.1h0M166.7 144.9h0M167.0 146.8h0M156.7 146.6h0M166.8 149.2h0M155.5 148.6h0M167.4 150.7h0M159.2 150.3h0M158.6 152.3h0M155.5 152.1h0M156.6 154.5h0M158.5 154.1h0M163.4 155.8h0M164.9 155.9h0M156.8 157.7h0M159.4 159.2h0M164.2 159.8h0M159.5 161.0h0M164.1 162.9h0M160.7 164.8h0M159.3 167.1h0M160.0 172.5h0M160.5 173.9h0M160.4 179.6h0M161.8 179.7h0M161.2 185.7h0M160.6 75.8h0M159.6 80.3h0M161.4 81.6h0M160.6 190.0h0M160.9 193.5h0M160.4 197.0h0" stroke-width="1.5"/>
</g>
<path d="M151.4 126.2H171.0" stroke="#111" stroke-width="1.25" fill="none"/>
<g stroke="#7486BA" stroke-width="0.9" stroke-linecap="round" fill="none">
<path d="M189.1 92.3Q190.8 92.5 192.7 92.3" stroke-dasharray="1.26 1.16" stroke-dashoffset="2.06"/>
<path d="M187.3 94.9Q190.8 95.3 194.7 94.9" stroke-dasharray="1.60 0.91" stroke-dashoffset="0.71"/>
<path d="M186.7 97.0Q190.8 97.6 195.5 97.0" stroke-dasharray="1.05 1.05" stroke-dashoffset="0.80"/>
<path d="M181.9 99.0Q190.8 100.8 199.7 99.0" stroke-dasharray="1.28 0.96" stroke-dashoffset="1.40"/>
<path d="M184.7 101.9Q190.8 103.0 196.4 101.9" stroke-dasharray="1.50 0.99" stroke-dashoffset="0.74"/>
<path d="M186.4 104.7Q190.8 105.3 195.2 104.7" stroke-dasharray="1.46 1.10" stroke-dashoffset="0.57"/>
<path d="M184.6 106.8Q190.8 107.9 196.9 106.8" stroke-dasharray="1.37 0.97" stroke-dashoffset="0.93"/>
<path d="M183.5 109.3Q190.8 110.5 197.8 109.3" stroke-dasharray="1.65 1.01" stroke-dashoffset="0.50"/>
<path d="M183.3 111.7Q190.8 112.9 197.8 111.7" stroke-dasharray="1.36 0.98" stroke-dashoffset="0.19"/>
<path d="M182.5 114.0Q190.8 115.4 199.1 114.0" stroke-dasharray="1.65 1.15" stroke-dashoffset="1.75"/>
<path d="M185.6 116.6Q190.8 117.6 196.6 116.6" stroke-dasharray="1.40 1.07" stroke-dashoffset="0.34"/>
<path d="M183.8 119.2Q190.8 120.3 198.3 119.2" stroke-dasharray="1.31 0.77" stroke-dashoffset="0.28"/>
<path d="M183.3 121.5Q190.8 123.0 197.9 121.5" stroke-dasharray="1.56 0.87" stroke-dashoffset="1.86"/>
<path d="M181.5 123.7Q190.8 125.5 200.0 123.7" stroke-dasharray="1.33 1.09" stroke-dashoffset="0.86"/>
<path d="M181.1 125.9Q190.8 128.0 200.9 125.9" stroke-dasharray="2.26 0.49" stroke-dashoffset="1.91"/>
<path d="M180.5 127.4Q190.8 129.5 201.1 127.4" stroke-dasharray="1.95 0.46" stroke-dashoffset="0.36"/>
<path d="M181.2 128.7Q190.8 130.7 200.1 128.7" stroke-dasharray="3.64 0.59" stroke-dashoffset="1.14"/>
<path d="M181.1 129.9Q190.8 132.1 200.5 129.9" stroke-dasharray="1.88 0.61" stroke-dashoffset="0.19"/>
<path d="M182.6 131.5Q190.8 133.3 199.2 131.5" stroke-dasharray="2.64 0.46" stroke-dashoffset="2.96"/>
<path d="M180.7 132.5Q190.8 134.5 200.5 132.5" stroke-dasharray="2.96 0.45" stroke-dashoffset="2.79"/>
<path d="M184.1 134.1Q190.8 135.5 197.3 134.1" stroke-dasharray="2.70 0.46" stroke-dashoffset="0.79"/>
<path d="M182.6 135.2Q190.8 136.9 198.9 135.2" stroke-dasharray="1.94 0.65" stroke-dashoffset="0.92"/>
<path d="M183.3 136.8Q190.8 138.4 198.7 136.8" stroke-dasharray="1.99 0.45" stroke-dashoffset="1.04"/>
<path d="M185.3 138.1Q190.8 139.3 196.6 138.1" stroke-dasharray="2.08 0.42" stroke-dashoffset="2.40"/>
<path d="M181.1 138.9Q190.8 141.1 200.9 138.9" stroke-dasharray="3.12 0.48" stroke-dashoffset="2.54"/>
<path d="M181.4 140.5Q190.8 142.5 200.6 140.5" stroke-dasharray="3.63 0.44" stroke-dashoffset="0.84"/>
<path d="M182.8 142.0Q190.8 143.5 199.4 142.0" stroke-dasharray="2.89 0.44" stroke-dashoffset="2.39"/>
<path d="M180.5 143.0Q190.8 145.2 200.6 143.0" stroke-dasharray="2.17 0.63" stroke-dashoffset="1.64"/>
<path d="M181.0 144.4Q190.8 146.4 200.8 144.4" stroke-dasharray="3.13 0.63" stroke-dashoffset="3.16"/>
<path d="M181.3 145.5Q190.8 147.7 200.6 145.5" stroke-dasharray="2.96 0.46" stroke-dashoffset="0.07"/>
<path d="M181.3 146.8Q190.8 148.9 200.3 146.8" stroke-dasharray="2.00 0.46" stroke-dashoffset="0.14"/>
<path d="M181.9 148.5Q190.8 150.1 199.8 148.5" stroke-dasharray="3.13 0.40" stroke-dashoffset="0.96"/>
<path d="M186.7 150.2Q190.8 150.7 195.4 150.2" stroke-dasharray="1.87 0.52" stroke-dashoffset="1.46"/>
<path d="M185.8 151.1Q190.8 152.2 196.0 151.1" stroke-dasharray="3.23 0.65" stroke-dashoffset="1.55"/>
<path d="M183.7 152.5Q190.8 153.7 197.7 152.5" stroke-dasharray="2.58 0.58" stroke-dashoffset="2.63"/>
<path d="M185.2 153.9Q190.8 154.9 196.2 153.9" stroke-dasharray="0.99 1.01" stroke-dashoffset="1.24"/>
<path d="M185.6 155.6Q190.8 156.6 196.3 155.6" stroke-dasharray="0.69 1.33" stroke-dashoffset="1.97"/>
<path d="M185.3 157.0Q190.8 158.2 196.5 157.0" stroke-dasharray="1.09 1.38" stroke-dashoffset="2.15"/>
<path d="M186.0 158.7Q190.8 159.7 196.0 158.7" stroke-dasharray="0.65 1.24" stroke-dashoffset="0.03"/>
<path d="M186.3 160.7Q190.8 161.4 195.7 160.7" stroke-dasharray="0.78 1.07" stroke-dashoffset="0.61"/>
<path d="M186.8 162.6Q190.8 163.3 195.1 162.6" stroke-dasharray="0.69 0.88" stroke-dashoffset="1.37"/>
<path d="M186.9 164.2Q190.8 165.1 194.1 164.2" stroke-dasharray="0.90 0.96" stroke-dashoffset="1.74"/>
<path d="M187.5 165.8Q190.8 166.3 194.1 165.8" stroke-dasharray="1.05 1.10" stroke-dashoffset="0.72"/>
<path d="M188.0 167.7Q190.8 168.0 193.8 167.7" stroke-dasharray="1.19 0.92" stroke-dashoffset="0.23"/>
<path d="M188.4 169.5Q190.8 169.8 193.3 169.5" stroke-dasharray="1.24 1.35" stroke-dashoffset="2.52"/>
<path d="M188.8 170.9Q190.8 171.1 193.4 170.9" stroke-dasharray="0.80 1.06" stroke-dashoffset="0.08"/>
<path d="M189.0 172.8Q190.8 173.1 192.9 172.8" stroke-dasharray="0.73 1.30" stroke-dashoffset="1.78"/>
<path d="M189.2 174.8Q190.8 175.2 192.7 174.8" stroke-dasharray="0.68 1.22" stroke-dashoffset="0.06"/>
<path d="M189.1 176.3Q190.8 176.6 192.4 176.3" stroke-dasharray="0.85 1.18" stroke-dashoffset="0.77"/>
<path d="M189.4 178.2Q190.8 178.4 191.9 178.2" stroke-dasharray="1.05 1.39" stroke-dashoffset="1.86"/>
<path d="M193.8 154.8h0M185.0 155.0h0M191.3 155.8h0M187.0 156.1h0M186.6 158.1h0M187.4 157.9h0M196.0 159.3h0M187.0 159.8h0M195.1 160.6h0M185.1 161.4h0M193.7 163.4h0M186.9 162.6h0M193.0 164.0h0M193.4 164.4h0M190.5 166.1h0M190.1 166.4h0M192.6 167.4h0M191.0 170.0h0M194.0 169.1h0M192.6 171.8h0M191.0 172.8h0M192.3 174.9h0M191.4 176.3h0M189.4 178.4h0M190.4 179.9h0M191.3 179.8h0M191.0 181.1h0M190.0 85.6h0M190.8 85.2h0M190.5 90.3h0M190.6 185.0h0M190.9 188.0h0M190.5 195.5h0" stroke-width="1.5"/>
</g>
<path d="M181.0 134.0H200.6" stroke="#111" stroke-width="1.25" fill="none"/>
<g stroke="#205F44" stroke-width="1.05" stroke-linecap="round" fill="none">
<path d="M218.1 93.1Q220.3 93.7 222.1 93.1" stroke-dasharray="2.45 0.72" stroke-dashoffset="2.03" stroke-width="1.35"/>
<path d="M217.3 95.3Q220.3 95.8 223.2 95.3" stroke-dasharray="1.90 0.81" stroke-dashoffset="1.01" stroke-width="1.35"/>
<path d="M217.1 97.1Q220.3 97.5 224.1 97.1" stroke-dasharray="2.28 0.72" stroke-dashoffset="1.43" stroke-width="1.35"/>
<path d="M217.6 99.1Q220.3 99.4 223.2 99.1" stroke-dasharray="2.18 0.74" stroke-dashoffset="2.34" stroke-width="1.35"/>
<path d="M217.2 101.0Q220.3 101.4 223.2 101.0" stroke-dasharray="2.08 0.88" stroke-dashoffset="0.76" stroke-width="1.35"/>
<path d="M217.7 102.9Q220.3 103.5 222.5 102.9" stroke-dasharray="1.91 0.84" stroke-dashoffset="1.70" stroke-width="1.35"/>
<path d="M216.8 104.6Q220.3 105.2 224.1 104.6" stroke-dasharray="2.65 0.71" stroke-dashoffset="2.04" stroke-width="1.35"/>
<path d="M218.0 106.8Q220.3 107.3 222.2 106.8" stroke-dasharray="2.65 0.81" stroke-dashoffset="1.29" stroke-width="1.35"/>
<path d="M216.0 108.5Q220.3 109.2 224.5 108.5" stroke-dasharray="2.60 0.79" stroke-dashoffset="2.68" stroke-width="1.35"/>
<path d="M216.6 110.4Q220.3 111.2 224.6 110.4" stroke-dasharray="1.58 0.58" stroke-dashoffset="0.86" stroke-width="1.35"/>
<path d="M214.4 112.1Q220.3 113.2 225.6 112.1" stroke-dasharray="2.26 0.75" stroke-dashoffset="2.32" stroke-width="1.35"/>
<path d="M216.0 114.1Q220.3 114.9 224.6 114.1" stroke-dasharray="2.48 0.64" stroke-dashoffset="1.42" stroke-width="1.35"/>
<path d="M214.8 116.2Q220.3 117.0 225.7 116.2" stroke-dasharray="2.13 0.91" stroke-dashoffset="2.48" stroke-width="1.35"/>
<path d="M214.6 117.7Q220.3 119.0 226.0 117.7" stroke-dasharray="2.04 0.59" stroke-dashoffset="1.01" stroke-width="1.35"/>
<path d="M216.3 119.9Q220.3 120.6 224.0 119.9" stroke-dasharray="2.51 0.84" stroke-dashoffset="2.87" stroke-width="1.35"/>
<path d="M215.2 121.9Q220.3 122.8 225.9 121.9" stroke-dasharray="2.23 0.81" stroke-dashoffset="0.43" stroke-width="1.35"/>
<path d="M215.4 123.6Q220.3 124.5 225.0 123.6" stroke-dasharray="2.06 0.70" stroke-dashoffset="1.56" stroke-width="1.35"/>
<path d="M212.5 125.2Q220.3 126.9 228.3 125.2" stroke-dasharray="6.31 0.44" stroke-dashoffset="3.07"/>
<path d="M213.7 126.8Q220.3 127.8 227.1 126.8" stroke-dasharray="3.67 0.49" stroke-dashoffset="0.30"/>
<path d="M212.0 127.6Q220.3 129.5 228.9 127.6" stroke-dasharray="5.24 0.45" stroke-dashoffset="3.85"/>
<path d="M211.8 128.7Q220.3 130.6 229.3 128.7" stroke-dasharray="4.22 0.34" stroke-dashoffset="0.43"/>
<path d="M211.5 129.9Q220.3 131.8 229.5 129.9" stroke-dasharray="5.90 0.35" stroke-dashoffset="0.35"/>
<path d="M214.3 131.6Q220.3 132.6 226.4 131.6" stroke-dasharray="4.62 0.43" stroke-dashoffset="0.78"/>
<path d="M213.3 132.8Q220.3 134.0 227.8 132.8" stroke-dasharray="4.87 0.33" stroke-dashoffset="1.97"/>
<path d="M210.6 133.4Q220.3 135.4 229.9 133.4" stroke-dasharray="6.05 0.41" stroke-dashoffset="4.38"/>
<path d="M210.4 134.9Q220.3 136.8 230.8 134.9" stroke-dasharray="6.79 0.43" stroke-dashoffset="2.10"/>
<path d="M209.9 136.0Q220.3 138.1 230.2 136.0" stroke-dasharray="5.20 0.49" stroke-dashoffset="3.40"/>
<path d="M210.8 137.2Q220.3 139.0 230.3 137.2" stroke-dasharray="6.46 0.37" stroke-dashoffset="6.31"/>
<path d="M210.5 138.1Q220.3 140.4 230.6 138.1" stroke-dasharray="5.80 0.33" stroke-dashoffset="2.04"/>
<path d="M210.6 139.4Q220.3 141.5 230.3 139.4" stroke-dasharray="4.54 0.33" stroke-dashoffset="2.73"/>
<path d="M210.2 140.7Q220.3 142.9 230.3 140.7" stroke-dasharray="3.62 0.42" stroke-dashoffset="0.39"/>
<path d="M210.4 141.9Q220.3 143.9 230.0 141.9" stroke-dasharray="5.82 0.35" stroke-dashoffset="1.05"/>
<path d="M212.6 143.3Q220.3 144.9 227.6 143.3" stroke-dasharray="3.83 0.50" stroke-dashoffset="0.51"/>
<path d="M210.1 144.4Q220.3 146.3 230.1 144.4" stroke-dasharray="5.37 0.42" stroke-dashoffset="2.13"/>
<path d="M210.2 145.5Q220.3 147.4 230.1 145.5" stroke-dasharray="6.55 0.42" stroke-dashoffset="6.21"/>
<path d="M210.1 146.8Q220.3 148.9 230.6 146.8" stroke-dasharray="5.91 0.37" stroke-dashoffset="4.71"/>
<path d="M210.5 148.0Q220.3 149.8 230.2 148.0" stroke-dasharray="4.52 0.50" stroke-dashoffset="0.42"/>
<path d="M210.6 149.2Q220.3 151.3 230.3 149.2" stroke-dasharray="3.72 0.37" stroke-dashoffset="2.45"/>
<path d="M214.0 150.8Q220.3 152.1 226.4 150.8" stroke-dasharray="6.34 0.41" stroke-dashoffset="6.22"/>
<path d="M209.8 151.5Q220.3 153.6 230.3 151.5" stroke-dasharray="4.36 0.47" stroke-dashoffset="3.27"/>
<path d="M210.2 152.7Q220.3 154.6 230.0 152.7" stroke-dasharray="4.66 0.52" stroke-dashoffset="5.16"/>
<path d="M212.5 154.2Q220.3 155.9 228.4 154.2" stroke-dasharray="5.73 0.36" stroke-dashoffset="3.81"/>
<path d="M211.2 155.2Q220.3 157.0 229.0 155.2" stroke-dasharray="6.88 0.45" stroke-dashoffset="5.47"/>
<path d="M210.6 156.3Q220.3 158.6 230.3 156.3" stroke-dasharray="6.41 0.48" stroke-dashoffset="4.07"/>
<path d="M210.6 157.6Q220.3 159.7 229.7 157.6" stroke-dasharray="6.86 0.43" stroke-dashoffset="6.90"/>
<path d="M211.2 158.7Q220.3 160.7 229.8 158.7" stroke-dasharray="4.31 0.36" stroke-dashoffset="2.14"/>
<path d="M211.7 160.0Q220.3 162.0 229.1 160.0" stroke-dasharray="4.87 0.48" stroke-dashoffset="4.25"/>
<path d="M212.0 161.2Q220.3 162.8 228.8 161.2" stroke-dasharray="6.43 0.39" stroke-dashoffset="4.05"/>
<path d="M213.0 162.5Q220.3 163.8 227.1 162.5" stroke-dasharray="6.34 0.40" stroke-dashoffset="4.08"/>
<path d="M213.0 163.9Q220.3 165.1 228.0 163.9" stroke-dasharray="5.67 0.38" stroke-dashoffset="0.53"/>
<path d="M213.7 165.2Q220.3 166.4 227.3 165.2" stroke-dasharray="3.92 0.46" stroke-dashoffset="0.18"/>
<path d="M215.8 166.6Q220.3 167.3 225.2 166.6" stroke-dasharray="1.81 0.72" stroke-dashoffset="2.10"/>
<path d="M216.2 168.6Q220.3 169.1 224.4 168.6" stroke-dasharray="1.41 0.98" stroke-dashoffset="1.23"/>
<path d="M215.6 169.4Q220.3 170.4 225.1 169.4" stroke-dasharray="1.39 0.91" stroke-dashoffset="2.08"/>
<path d="M216.3 171.5Q220.3 172.0 224.5 171.5" stroke-dasharray="1.57 0.94" stroke-dashoffset="0.09"/>
<path d="M216.7 172.7Q220.3 173.6 224.0 172.7" stroke-dasharray="1.49 0.75" stroke-dashoffset="1.71"/>
<path d="M216.9 174.5Q220.3 175.3 224.1 174.5" stroke-dasharray="1.54 0.75" stroke-dashoffset="0.37"/>
<path d="M216.5 176.2Q220.3 176.8 224.1 176.2" stroke-dasharray="1.19 0.66" stroke-dashoffset="0.55"/>
<path d="M216.9 177.3Q220.3 177.8 224.2 177.3" stroke-dasharray="1.15 0.80" stroke-dashoffset="0.75"/>
<path d="M217.6 179.5Q220.3 180.0 223.2 179.5" stroke-dasharray="1.34 0.86" stroke-dashoffset="1.48"/>
<path d="M217.8 180.5Q220.3 181.0 223.0 180.5" stroke-dasharray="1.43 0.78" stroke-dashoffset="2.07"/>
<path d="M218.8 182.4Q220.3 182.8 222.1 182.4" stroke-dasharray="1.50 1.03" stroke-dashoffset="1.60"/>
<path d="M218.4 184.0Q220.3 184.5 222.1 184.0" stroke-dasharray="1.08 0.99" stroke-dashoffset="1.10"/>
<path d="M218.5 185.5Q220.3 185.6 221.6 185.5" stroke-dasharray="1.44 0.80" stroke-dashoffset="1.28"/>
<path d="M219.0 166.9h0M225.8 166.9h0M218.6 168.0h0M218.8 170.3h0M221.7 169.9h0M222.8 172.1h0M219.3 173.5h0M224.6 175.0h0M222.4 175.9h0M219.8 177.4h0M217.8 179.7h0M217.4 181.4h0M218.3 182.3h0M221.5 185.9h0M219.9 187.4h0M221.0 187.0h0M220.0 76.0h0M220.0 90.8h0M220.4 190.5h0M220.1 193.5h0M220.5 196.5h0M220.2 199.5h0M220.4 202.5h0" stroke-width="1.5"/>
</g>
<path d="M210.5 142.3H230.1" stroke="#111" stroke-width="1.25" fill="none"/>
<text transform="translate(73.9 213.3) rotate(-45)" text-anchor="end" font-size="9.2" textLength="10.6" lengthAdjust="spacingAndGlyphs">HD</text>
<text transform="translate(104.1 213.3) rotate(-45)" text-anchor="end" font-size="9.2" textLength="20.9" lengthAdjust="spacingAndGlyphs">SPAD</text>
<text transform="translate(133.9 213.3) rotate(-45)" text-anchor="end" font-size="9.2" textLength="19.6" lengthAdjust="spacingAndGlyphs">HGG</text>
<text transform="translate(164.1 213.3) rotate(-45)" text-anchor="end" font-size="9.2" textLength="26.4" lengthAdjust="spacingAndGlyphs">IgGSD</text>
<text transform="translate(193.7 213.3) rotate(-45)" text-anchor="end" font-size="9.2" textLength="19.4" lengthAdjust="spacingAndGlyphs">CVID</text>
<g transform="translate(218.5 218.0) rotate(-45)"><text x="0" y="0" text-anchor="end" font-size="9.2" textLength="40.2" lengthAdjust="spacingAndGlyphs">CVID PPV</text><text x="0.4" y="-3.4" font-size="4.6" textLength="7.4" lengthAdjust="spacingAndGlyphs">low</text></g>
<g shape-rendering="auto">
<rect x="265.2" y="56.0" width="135.80" height="174.40" fill="#C9402B"/>
<clipPath id="c0"><rect x="265.20" y="56.0" width="135.80" height="174.40"/></clipPath>
<g clip-path="url(#c0)" opacity="0.999">
<rect x="263.20" y="54.00" width="139.80" height="179.40" fill="#C9402B"/>
<rect x="263.20" y="155.40" width="139.80" height="78.00" fill="#E2932B"/>
<rect x="263.20" y="156.40" width="139.80" height="77.00" fill="#C9402B"/>
<rect x="263.20" y="166.40" width="139.80" height="67.00" fill="#E2932B"/>
<rect x="263.20" y="169.90" width="139.80" height="63.50" fill="#C9402B"/>
<rect x="263.20" y="171.30" width="139.80" height="62.10" fill="#E2932B"/>
<rect x="263.20" y="172.30" width="139.80" height="61.10" fill="#C9402B"/>
<rect x="263.20" y="174.00" width="139.80" height="59.40" fill="#D2D732"/>
<rect x="263.20" y="177.20" width="139.80" height="56.20" fill="#E2932B"/>
<rect x="263.20" y="178.00" width="139.80" height="55.40" fill="#D2D732"/>
<rect x="263.20" y="179.70" width="139.80" height="53.70" fill="#C9402B"/>
<rect x="263.20" y="182.60" width="139.80" height="50.80" fill="#E2932B"/>
<rect x="263.20" y="188.00" width="139.80" height="45.40" fill="#C9402B"/>
<rect x="263.20" y="188.60" width="139.80" height="44.80" fill="#E6BE2E"/>
<rect x="263.20" y="190.50" width="139.80" height="42.90" fill="#C9402B"/>
<rect x="263.20" y="194.60" width="139.80" height="38.80" fill="#D2D732"/>
<rect x="263.20" y="205.50" width="139.80" height="27.90" fill="#62A856"/>
<rect x="263.20" y="207.60" width="139.80" height="25.80" fill="#E2932B"/>
<rect x="263.20" y="214.90" width="139.80" height="18.50" fill="#80B748"/>
<rect x="263.20" y="218.60" width="139.80" height="14.80" fill="#78B24A"/>
<rect x="263.20" y="220.40" width="139.80" height="13.00" fill="#80B748"/>
<rect x="263.20" y="223.60" width="139.80" height="9.80" fill="#A8D6E6"/>
<rect x="263.20" y="226.00" width="139.80" height="7.40" fill="#6FAE50"/>
<rect x="263.20" y="229.40" width="139.80" height="4.00" fill="#DCDC40"/>
</g>
<clipPath id="c1"><rect x="292.36" y="56.0" width="108.64" height="174.40"/></clipPath>
<g clip-path="url(#c1)" opacity="0.999">
<rect x="290.36" y="54.00" width="112.64" height="179.40" fill="#C9402B"/>
<rect x="290.36" y="166.00" width="112.64" height="67.40" fill="#E2932B"/>
<rect x="290.36" y="167.50" width="112.64" height="65.90" fill="#C9402B"/>
<rect x="290.36" y="169.00" width="112.64" height="64.40" fill="#E59A3A"/>
<rect x="290.36" y="170.20" width="112.64" height="63.20" fill="#C9402B"/>
<rect x="290.36" y="178.60" width="112.64" height="54.80" fill="#D2D732"/>
<rect x="290.36" y="181.80" width="112.64" height="51.60" fill="#E2932B"/>
<rect x="290.36" y="182.60" width="112.64" height="50.80" fill="#D2D732"/>
<rect x="290.36" y="188.40" width="112.64" height="45.00" fill="#E2932B"/>
<rect x="290.36" y="189.30" width="112.64" height="44.10" fill="#D2D732"/>
<rect x="290.36" y="190.80" width="112.64" height="42.60" fill="#C9402B"/>
<rect x="290.36" y="194.80" width="112.64" height="38.60" fill="#D2D732"/>
<rect x="290.36" y="198.50" width="112.64" height="34.90" fill="#80B748"/>
<rect x="290.36" y="199.80" width="112.64" height="33.60" fill="#D2D732"/>
<rect x="290.36" y="202.20" width="112.64" height="31.20" fill="#E2932B"/>
<rect x="290.36" y="204.00" width="112.64" height="29.40" fill="#D2D732"/>
<rect x="290.36" y="208.05" width="112.64" height="25.35" fill="#80B748"/>
<rect x="290.36" y="209.20" width="112.64" height="24.20" fill="#E2932B"/>
<rect x="290.36" y="211.30" width="112.64" height="22.10" fill="#D2D732"/>
<rect x="290.36" y="218.90" width="112.64" height="14.50" fill="#C9402B"/>
<rect x="290.36" y="223.00" width="112.64" height="10.40" fill="#D2D732"/>
<rect x="290.36" y="224.60" width="112.64" height="8.80" fill="#E2932B"/>
<rect x="290.36" y="225.80" width="112.64" height="7.60" fill="#D2D732"/>
<rect x="290.36" y="227.10" width="112.64" height="6.30" fill="#A9DBE6"/>
<rect x="290.36" y="229.00" width="112.64" height="4.40" fill="#8DC09A"/>
</g>
<clipPath id="c2"><rect x="319.52" y="56.0" width="81.48" height="174.40"/></clipPath>
<g clip-path="url(#c2)" opacity="0.999">
<rect x="317.52" y="54.00" width="85.48" height="179.40" fill="#C9402B"/>
<rect x="317.52" y="170.00" width="85.48" height="63.40" fill="#E2932B"/>
<rect x="317.52" y="171.40" width="85.48" height="62.00" fill="#D2D732"/>
<rect x="317.52" y="173.60" width="85.48" height="59.80" fill="#C9402B"/>
<rect x="317.52" y="177.00" width="85.48" height="56.40" fill="#E2932B"/>
<rect x="317.52" y="178.30" width="85.48" height="55.10" fill="#C9402B"/>
<rect x="317.52" y="186.60" width="85.48" height="46.80" fill="#E2932B"/>
<rect x="317.52" y="189.80" width="85.48" height="43.60" fill="#C9402B"/>
<rect x="317.52" y="193.50" width="85.48" height="39.90" fill="#E6BE2E"/>
<rect x="317.52" y="194.90" width="85.48" height="38.50" fill="#C9402B"/>
<rect x="317.52" y="196.60" width="85.48" height="36.80" fill="#E2932B"/>
<rect x="317.52" y="199.00" width="85.48" height="34.40" fill="#C9402B"/>
<rect x="317.52" y="202.60" width="85.48" height="30.80" fill="#E2932B"/>
<rect x="317.52" y="204.60" width="85.48" height="28.80" fill="#C23A28"/>
<rect x="317.52" y="209.00" width="85.48" height="24.40" fill="#E2932B"/>
<rect x="317.52" y="212.60" width="85.48" height="20.80" fill="#D2D732"/>
<rect x="317.52" y="216.00" width="85.48" height="17.40" fill="#E2932B"/>
<rect x="317.52" y="217.70" width="85.48" height="15.70" fill="#D2D732"/>
<rect x="317.52" y="221.70" width="85.48" height="11.70" fill="#E6BE2E"/>
<rect x="317.52" y="222.30" width="85.48" height="11.10" fill="#80B748"/>
<rect x="317.52" y="225.00" width="85.48" height="8.40" fill="#E2932B"/>
<rect x="317.52" y="226.00" width="85.48" height="7.40" fill="#A8D6E6"/>
<rect x="317.52" y="228.00" width="85.48" height="5.40" fill="#4B6FB9"/>
<rect x="317.52" y="229.80" width="85.48" height="3.60" fill="#A5D4EC"/>
</g>
<clipPath id="c3"><rect x="346.68" y="56.0" width="54.32" height="174.40"/></clipPath>
<g clip-path="url(#c3)" opacity="0.999">
<rect x="344.68" y="54.00" width="58.32" height="179.40" fill="#C9402B"/>
<rect x="344.68" y="139.00" width="58.32" height="94.40" fill="#EDAB2C"/>
<rect x="344.68" y="141.10" width="58.32" height="92.30" fill="#C9402B"/>
<rect x="344.68" y="155.60" width="58.32" height="77.80" fill="#E2932B"/>
<rect x="344.68" y="165.00" width="58.32" height="68.40" fill="#C9402B"/>
<rect x="344.68" y="169.60" width="58.32" height="63.80" fill="#E2932B"/>
<rect x="344.68" y="171.00" width="58.32" height="62.40" fill="#C9402B"/>
<rect x="344.68" y="185.40" width="58.32" height="48.00" fill="#E2932B"/>
<rect x="344.68" y="188.40" width="58.32" height="45.00" fill="#80B748"/>
<rect x="344.68" y="189.00" width="58.32" height="44.40" fill="#D2D732"/>
<rect x="344.68" y="194.50" width="58.32" height="38.90" fill="#C9402B"/>
<rect x="344.68" y="204.10" width="58.32" height="29.30" fill="#E2932B"/>
<rect x="344.68" y="205.60" width="58.32" height="27.80" fill="#C9402B"/>
<rect x="344.68" y="209.50" width="58.32" height="23.90" fill="#E2932B"/>
<rect x="344.68" y="212.30" width="58.32" height="21.10" fill="#EDAB2C"/>
<rect x="344.68" y="213.50" width="58.32" height="19.90" fill="#E2932B"/>
<rect x="344.68" y="220.00" width="58.32" height="13.40" fill="#C9402B"/>
<rect x="344.68" y="221.00" width="58.32" height="12.40" fill="#E2932B"/>
<rect x="344.68" y="223.60" width="58.32" height="9.80" fill="#D2D732"/>
<rect x="344.68" y="225.80" width="58.32" height="7.60" fill="#A8D6E6"/>
<rect x="344.68" y="227.00" width="58.32" height="6.40" fill="#80B748"/>
<rect x="344.68" y="228.00" width="58.32" height="5.40" fill="#DA278B"/>
</g>
<clipPath id="c4"><rect x="373.84" y="56.0" width="27.16" height="174.40"/></clipPath>
<g clip-path="url(#c4)" opacity="0.999">
<rect x="371.84" y="54.00" width="31.16" height="179.40" fill="#C9402B"/>
<rect x="371.84" y="165.10" width="31.16" height="68.30" fill="#E2932B"/>
<rect x="371.84" y="166.80" width="31.16" height="66.60" fill="#C9402B"/>
<rect x="371.84" y="188.60" width="31.16" height="44.80" fill="#E2932B"/>
<rect x="371.84" y="189.60" width="31.16" height="43.80" fill="#C9402B"/>
<rect x="371.84" y="193.60" width="31.16" height="39.80" fill="#D2D732"/>
<rect x="371.84" y="195.10" width="31.16" height="38.30" fill="#C9402B"/>
<rect x="371.84" y="198.50" width="31.16" height="34.90" fill="#EDAB2C"/>
<rect x="371.84" y="200.50" width="31.16" height="32.90" fill="#E2932B"/>
<rect x="371.84" y="203.80" width="31.16" height="29.60" fill="#D2D732"/>
<rect x="371.84" y="205.60" width="31.16" height="27.80" fill="#C9402B"/>
<rect x="371.84" y="211.30" width="31.16" height="22.10" fill="#E2932B"/>
<rect x="371.84" y="213.90" width="31.16" height="19.50" fill="#C9402B"/>
<rect x="371.84" y="215.10" width="31.16" height="18.30" fill="#E2932B"/>
<rect x="371.84" y="220.00" width="31.16" height="13.40" fill="#C9402B"/>
<rect x="371.84" y="223.30" width="31.16" height="10.10" fill="#E2932B"/>
<rect x="371.84" y="223.80" width="31.16" height="9.60" fill="#D2D732"/>
<rect x="371.84" y="225.60" width="31.16" height="7.80" fill="#80B748"/>
<rect x="371.84" y="226.60" width="31.16" height="6.80" fill="#D2D732"/>
<rect x="371.84" y="227.70" width="31.16" height="5.70" fill="#E6BE2E"/>
<rect x="371.84" y="228.20" width="31.16" height="5.20" fill="#2C2A8E"/>
</g>
</g>
<g stroke="#D0503A" stroke-width="0.4" opacity="0.6">
<path d="M292.36 56.0V150"/>
<path d="M319.52 56.0V150"/>
<path d="M346.68 56.0V150"/>
<path d="M373.84 56.0V150"/>
</g>
<g stroke="#B83520" stroke-width="0.6" opacity="0.22">
<path d="M265.2 56.80H401.0"/>
<path d="M265.2 60.85H401.0"/>
<path d="M265.2 64.90H401.0"/>
<path d="M265.2 68.95H401.0"/>
<path d="M265.2 73.00H401.0"/>
<path d="M265.2 77.05H401.0"/>
<path d="M265.2 81.10H401.0"/>
<path d="M265.2 85.15H401.0"/>
<path d="M265.2 89.20H401.0"/>
<path d="M265.2 93.25H401.0"/>
<path d="M265.2 97.30H401.0"/>
<path d="M265.2 101.35H401.0"/>
<path d="M265.2 105.40H401.0"/>
<path d="M265.2 109.45H401.0"/>
<path d="M265.2 113.50H401.0"/>
<path d="M265.2 117.55H401.0"/>
<path d="M265.2 121.60H401.0"/>
<path d="M265.2 125.65H401.0"/>
<path d="M265.2 129.70H401.0"/>
<path d="M265.2 133.75H401.0"/>
<path d="M265.2 137.80H401.0"/>
<path d="M265.2 141.85H401.0"/>
<path d="M265.2 145.90H401.0"/>
<path d="M265.2 149.95H401.0"/>
</g>
<text transform="translate(279.1 49.4) rotate(-45)" font-size="8.6" textLength="12.3" lengthAdjust="spacingAndGlyphs">HD</text>
<text transform="translate(306.2 49.4) rotate(-45)" font-size="8.6" textLength="21.8" lengthAdjust="spacingAndGlyphs">SPAD</text>
<text transform="translate(333.4 49.4) rotate(-45)" font-size="8.6" textLength="27.4" lengthAdjust="spacingAndGlyphs">IgGSD</text>
<text transform="translate(360.6 49.4) rotate(-45)" font-size="8.6" textLength="20.2" lengthAdjust="spacingAndGlyphs">HGG</text>
<text transform="translate(387.7 49.4) rotate(-45)" font-size="8.6" textLength="19.6" lengthAdjust="spacingAndGlyphs">CVID</text>
<g stroke="#484848" stroke-width="0.9" fill="none">
<path d="M278.3 233.2V245.1H305.8V233.2"/>
<path d="M292 245.1V248H353.5V241.4"/>
<path d="M333 233.2V241.4H373.6V235.2"/>
<path d="M359.8 233.2V235.2H387.3V233.2"/>
</g>
<rect x="444.30" y="64.1" width="5.66" height="17.20" fill="#D95B55"/>
<rect x="449.91" y="64.1" width="5.66" height="17.20" fill="#EDA854"/>
<rect x="455.52" y="64.1" width="5.66" height="17.20" fill="#E5E249"/>
<rect x="461.13" y="64.1" width="5.66" height="17.20" fill="#A9C765"/>
<rect x="466.74" y="64.1" width="5.66" height="17.20" fill="#8CC688"/>
<rect x="472.35" y="64.1" width="5.66" height="17.20" fill="#B0E1E1"/>
<rect x="477.96" y="64.1" width="5.66" height="17.20" fill="#7384C3"/>
<rect x="483.57" y="64.1" width="5.66" height="17.20" fill="#7B64A9"/>
<rect x="489.18" y="64.1" width="5.66" height="17.20" fill="#9E65A9"/>
<rect x="494.79" y="64.1" width="5.66" height="17.20" fill="#D451A2"/>
<path d="M444.3 64.5H449.61V79.5H461.13V80.5H472.35V81H500.4" stroke="#7FE3E0" stroke-width="0.7" fill="none"/>
<g stroke="#222" stroke-width="0.7" fill="none">
<path d="M444.1 64.1V81.3"/>
<path d="M443.90000000000003 81.3H455.3" stroke-width="0.9"/>
<path d="M441 66.9H444.3"/>
<path d="M441 69.6H444.3"/>
<path d="M441 72.5H444.3"/>
<path d="M441 75.3H444.3"/>
<path d="M441 78.4H444.3"/>
<path d="M441 81.3H444.3"/>
<path d="M457.3 81.3V84.5"/>
<path d="M471.3 81.3V84.5"/>
<path d="M485.3 81.3V84.5"/>
<path d="M499.2 81.3V84.5"/>
</g>
<text x="432" y="58.6" font-size="6.6" textLength="80" lengthAdjust="spacingAndGlyphs">Color key and histogram</text>
<text x="425.6" y="75.3" font-size="7.9" textLength="12.1" lengthAdjust="spacingAndGlyphs">300</text>
<text x="433.5" y="84.3" font-size="7.9" textLength="4.2" lengthAdjust="spacingAndGlyphs">0</text>
<text transform="translate(419.8 83.1) rotate(-90)" font-size="8.7" textLength="20.8" lengthAdjust="spacingAndGlyphs">Count</text>
<text x="448.7" y="94" font-size="8" textLength="14.8" lengthAdjust="spacingAndGlyphs">5x10</text>
<text x="463.9" y="90.6" font-size="4" textLength="2.3" lengthAdjust="spacingAndGlyphs" style="stroke-width:0">3</text>
<text x="475.3" y="94" font-size="8" textLength="17.8" lengthAdjust="spacingAndGlyphs">15x10</text>
<text x="493.4" y="90.6" font-size="4" textLength="2.3" lengthAdjust="spacingAndGlyphs" style="stroke-width:0">3</text>
<text x="465.2" y="103.6" font-size="8.9" textLength="12.8" lengthAdjust="spacingAndGlyphs">RFU</text>
</svg></body></html>
